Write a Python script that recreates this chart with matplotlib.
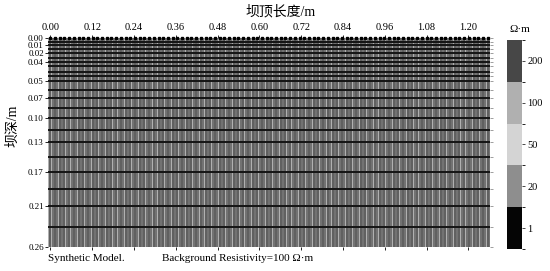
import numpy as np
import matplotlib
matplotlib.use('Agg')
import matplotlib.pyplot as plt
from matplotlib.colors import ListedColormap, BoundaryNorm

plt.rcParams['font.family'] = ['Liberation Serif', 'Noto Sans CJK SC']

# model geometry
n_electrodes = 94
electrode_spacing = 0.0135
layer_depths = [0.0, 0.0044, 0.0087, 0.0137, 0.0187, 0.0243, 0.0299, 0.0354,
                0.0417, 0.0473, 0.0535, 0.0641, 0.0746, 0.0871, 0.0995, 0.1144,
                0.1294, 0.1480, 0.1667, 0.1878, 0.2090, 0.2351, 0.2600]
depth_tick_idx = [0, 2, 4, 6, 10, 12, 14, 16, 18, 20, 22]
depth_tick_labels = ['0.00', '0.01', '0.02', '0.04', '0.05', '0.07', '0.10',
                     '0.13', '0.17', '0.21', '0.26']
x_ticks = [0.00, 0.12, 0.24, 0.36, 0.48, 0.60, 0.72, 0.84, 0.96, 1.08, 1.20]
x_tick_labels = ['0.00', '0.12', '0.24', '0.36', '0.48', '0.60', '0.72',
                 '0.84', '0.96', '1.08', '1.20']
background_rho = 100

# legend classes
rho_levels = [1, 20, 50, 100, 200]
rho_colors = ['#050505', '#8e8e8e', '#d4d4d4', '#b0b0b0', '#474747']

cmap = ListedColormap(rho_colors)
norm = BoundaryNorm(np.arange(len(rho_levels) + 1) - 0.5, cmap.N)

electrodes = np.arange(n_electrodes) * electrode_spacing
x_edges = np.append(electrodes - electrode_spacing / 2, electrodes[-1] + electrode_spacing / 2)
z_edges = np.array(layer_depths)
model = np.full((len(z_edges) - 1, len(x_edges) - 1), rho_levels.index(background_rho))

fig = plt.figure(figsize=(5.5, 2.71), dpi=100)
ax = fig.add_axes([0.0873, 0.0886, 0.8037, 0.7712])
ax.pcolormesh(x_edges, z_edges, model, cmap=cmap, norm=norm)

# mesh lines
ax.vlines(electrodes, 0, layer_depths[-1], color='#585858', lw=1.3)
ax.vlines(electrodes + electrode_spacing / 2, 0, layer_depths[-1], color='#6c6c6c', lw=1.3)
for d in layer_depths[1:-1]:
    ax.axhline(d, color='#141414', lw=1.4)
ax.plot(electrodes, np.zeros(n_electrodes), 's', color='black', ms=1.8, clip_on=False)

ax.set_xlim(x_edges[0], x_edges[-1])
ax.set_ylim(layer_depths[-1], 0)

ax.xaxis.tick_top()
ax.set_xticks(x_ticks)
ax.set_xticklabels(x_tick_labels, fontsize=7.5)
ax.tick_params(axis='x', top=True, bottom=True, length=2, width=0.6, pad=2)
ax.set_yticks([layer_depths[i] for i in depth_tick_idx])
ax.set_yticklabels(depth_tick_labels, fontsize=6.5)
ax.tick_params(axis='y', length=2, width=0.6, pad=1)
ax2 = ax.twinx()
ax2.set_ylim(layer_depths[-1], 0)
ax2.set_yticks(layer_depths)
ax2.set_yticklabels([])
ax2.tick_params(axis='y', length=2, width=0.5, color='#777777')
for a in (ax, ax2):
    for s in a.spines.values():
        s.set_visible(False)

fig.text(0.51, 0.955, '坝顶长度/m', ha='center', va='center', fontsize=10)
fig.text(0.023, 0.535, '坝深/m', ha='center', va='center', rotation=90, fontsize=10)
fig.text(0.087, 0.045, 'Synthetic Model.', ha='left', va='center', fontsize=8)
fig.text(0.295, 0.045, 'Background Resistivity=100 Ω·m', ha='left', va='center', fontsize=8)

# colour legend
cax = fig.add_axes([0.9218, 0.0812, 0.0272, 0.7712])
cb = fig.colorbar(plt.cm.ScalarMappable(norm=norm, cmap=cmap), cax=cax,
                  ticks=np.arange(len(rho_levels)))
cb.set_ticklabels([str(v) for v in rho_levels])
cb.ax.tick_params(labelsize=7.5, length=2, width=0.5, pad=2)
cb.outline.set_visible(False)
fig.text(0.945, 0.89, 'Ω·m', ha='center', va='center', fontsize=8)

fig.savefig('out.png', dpi=100)
